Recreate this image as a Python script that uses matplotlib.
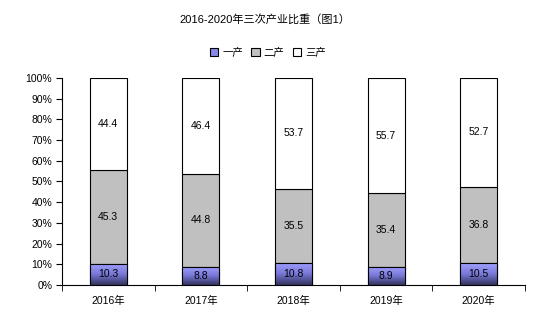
import numpy as np
import matplotlib
matplotlib.use("Agg")
import matplotlib.pyplot as plt
from matplotlib.colors import LinearSegmentedColormap

plt.rcParams['font.family'] = ['Liberation Sans', 'Noto Sans CJK SC', 'DejaVu Sans']

years = ['2016年', '2017年', '2018年', '2019年', '2020年']
primary = [10.3, 8.8, 10.8, 8.9, 10.5]
secondary = [45.3, 44.8, 35.5, 35.4, 36.8]
tertiary = [44.4, 46.4, 53.7, 55.7, 52.7]
series_names = ['一产', '二产', '三产']
title = '2016-2020年三次产业比重（图1）'

fig = plt.figure(figsize=(5.39, 3.26), dpi=100)
ax = fig.add_axes([0.115, 0.126, 0.859, 0.635])

x = np.arange(len(years))
w = 0.4
p = np.array(primary); s = np.array(secondary); t = np.array(tertiary)
b1 = ax.bar(x, p, w, color='#8888e8', edgecolor='black', linewidth=0.8, label=series_names[0], zorder=3)
b2 = ax.bar(x, s, w, bottom=p, color='#c0c0c0', edgecolor='black', linewidth=0.8, label=series_names[1], zorder=3)
b3 = ax.bar(x, t, w, bottom=p + s, color='white', edgecolor='black', linewidth=0.8, label=series_names[2], zorder=3)

# gradient fill for primary bars
cmap = LinearSegmentedColormap.from_list('g', ['#33335e', '#7878d8', '#a0a0ff'])
grad = np.linspace(0, 1, 100).reshape(-1, 1)
for r in b1:
    x0, y0 = r.get_x(), r.get_y()
    im = ax.imshow(grad, cmap=cmap, aspect='auto', origin='lower',
                   extent=[x0, x0 + r.get_width(), y0, y0 + r.get_height()], zorder=3.5)
    im.set_clip_path(r)
    ax.add_patch(plt.Rectangle((x0, y0), r.get_width(), r.get_height(), fill=False,
                               edgecolor='black', linewidth=0.8, zorder=4))

fs = 7.5
for i in range(len(years)):
    ax.text(x[i], p[i] / 2, f'{primary[i]}', ha='center', va='center', fontsize=fs, zorder=5)
    ax.text(x[i], p[i] + s[i] / 2, f'{secondary[i]}', ha='center', va='center', fontsize=fs, zorder=5)
    ax.text(x[i], p[i] + s[i] + t[i] / 2, f'{tertiary[i]}', ha='center', va='center', fontsize=fs, zorder=5)

ax.set_xlim(-0.5, len(years) - 0.5)
ax.set_ylim(0, 100)
ax.set_yticks(np.arange(0, 101, 10))
ax.set_yticklabels([f'{v}%' for v in range(0, 101, 10)], fontsize=fs)
ax.set_xticks(x)
ax.set_xticklabels(years, fontsize=fs)
ax.tick_params(axis='x', length=0, pad=8)
ax.set_xticks(np.arange(-0.5, len(years), 1), minor=True)
ax.tick_params(axis='x', which='minor', length=4, direction='out')
ax.tick_params(axis='y', length=4, direction='out', pad=3)
ax.spines['top'].set_visible(False)
ax.spines['right'].set_visible(False)

fig.text(0.492, 0.94, title, ha='center', va='center', fontsize=8)
fig.legend(handles=[b1, b2, b3], labels=series_names, loc='center', bbox_to_anchor=(0.497, 0.84),
           ncol=3, frameon=False, fontsize=fs, handlelength=0.8, handleheight=0.8,
           columnspacing=0.8, handletextpad=0.4)

fig.savefig('out.png', dpi=100)
